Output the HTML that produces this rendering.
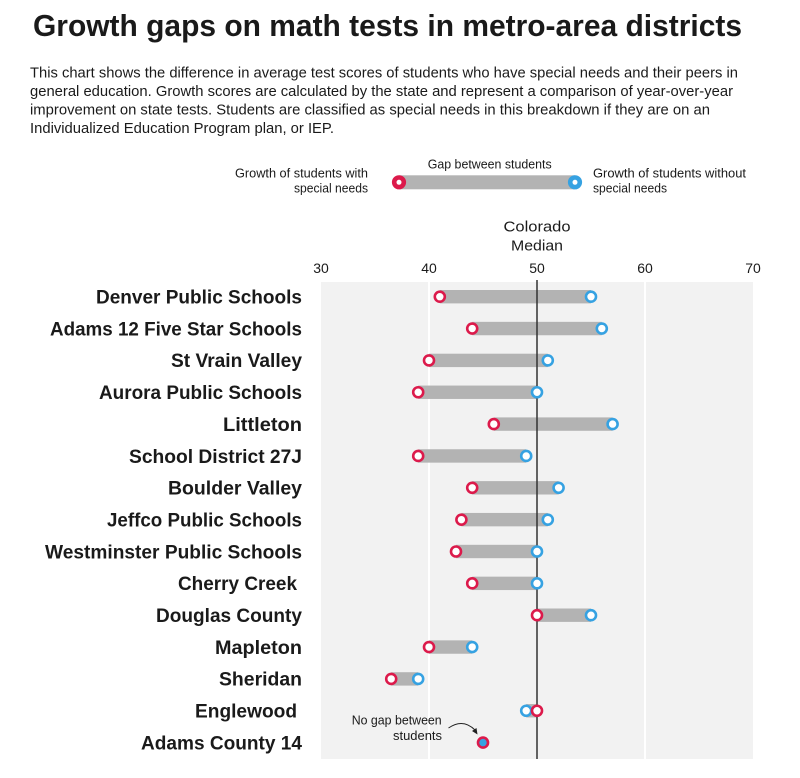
<!DOCTYPE html>
<html><head><meta charset="utf-8">
<style>
html,body{margin:0;padding:0;background:#fff;}
svg{display:block;}
text{font-family:"Liberation Sans",sans-serif;fill:#1a1a1a;}
</style></head>
<body>
<svg width="800" height="778" viewBox="0 0 800 778" xmlns="http://www.w3.org/2000/svg">
<!-- Title -->
<text x="33" y="36" font-size="31" font-weight="bold" textLength="709" lengthAdjust="spacingAndGlyphs" fill="#111">Growth gaps on math tests in metro-area districts</text>
<!-- Description -->
<g font-size="15" fill="#222">
<text x="30" y="77.5" textLength="708" lengthAdjust="spacingAndGlyphs">This chart shows the difference in average test scores of students who have special needs and their peers in</text>
<text x="30" y="96" textLength="703" lengthAdjust="spacingAndGlyphs">general education. Growth scores are calculated by the state and represent a comparison of year-over-year</text>
<text x="30" y="114.5" textLength="680" lengthAdjust="spacingAndGlyphs">improvement on state tests. Students are classified as special needs in this breakdown if they are on an</text>
<text x="30" y="133" textLength="304" lengthAdjust="spacingAndGlyphs">Individualized Education Program plan, or IEP.</text>
</g>
<!-- Legend -->
<g font-size="12.5" fill="#222">
<text x="427.7" y="168.3" textLength="124" lengthAdjust="spacingAndGlyphs">Gap between students</text>
<text x="235" y="177.5" textLength="133" lengthAdjust="spacingAndGlyphs">Growth of students with</text>
<text x="294" y="192.5" textLength="74" lengthAdjust="spacingAndGlyphs">special needs</text>
<text x="593" y="177.5" textLength="153" lengthAdjust="spacingAndGlyphs">Growth of students without</text>
<text x="593" y="192.5" textLength="74" lengthAdjust="spacingAndGlyphs">special needs</text>
</g>
<rect x="399" y="175.3" width="176" height="14" fill="#b3b3b3"/>
<circle cx="399" cy="182.3" r="4.8" fill="#fff" stroke="#dc1a4b" stroke-width="4.6"/>
<circle cx="575" cy="182.3" r="4.8" fill="#fff" stroke="#36a2e2" stroke-width="4.6"/>
<!-- Colorado Median -->
<text x="537" y="231.5" font-size="15" text-anchor="middle" textLength="67" lengthAdjust="spacingAndGlyphs" fill="#222">Colorado</text>
<text x="537" y="250.5" font-size="15" text-anchor="middle" textLength="52" lengthAdjust="spacingAndGlyphs" fill="#222">Median</text>
<!-- Tick labels -->
<g font-size="14" text-anchor="middle" fill="#222">
<text x="321" y="273">30</text>
<text x="429" y="273">40</text>
<text x="537" y="273">50</text>
<text x="645" y="273">60</text>
<text x="753" y="273">70</text>
</g>
<!-- Plot background -->
<rect x="321" y="282" width="432" height="477" fill="#f2f2f2"/>
<line x1="429" y1="282" x2="429" y2="759" stroke="#fff" stroke-width="2"/>
<line x1="645" y1="282" x2="645" y2="759" stroke="#fff" stroke-width="2"/>
<!-- Row labels -->
<g font-size="19" font-weight="bold" text-anchor="end" fill="#1a1a1a">
<text x="302" y="303.5" textLength="206" lengthAdjust="spacingAndGlyphs">Denver Public Schools</text>
<text x="302" y="335.35" textLength="252" lengthAdjust="spacingAndGlyphs">Adams 12 Five Star Schools</text>
<text x="302" y="367.2" textLength="131" lengthAdjust="spacingAndGlyphs">St Vrain Valley</text>
<text x="302" y="399.05" textLength="203" lengthAdjust="spacingAndGlyphs">Aurora Public Schools</text>
<text x="302" y="430.9" textLength="79" lengthAdjust="spacingAndGlyphs">Littleton</text>
<text x="302" y="462.75" textLength="173" lengthAdjust="spacingAndGlyphs">School District 27J</text>
<text x="302" y="494.6" textLength="134" lengthAdjust="spacingAndGlyphs">Boulder Valley</text>
<text x="302" y="526.45" textLength="195" lengthAdjust="spacingAndGlyphs">Jeffco Public Schools</text>
<text x="302" y="558.3" textLength="257" lengthAdjust="spacingAndGlyphs">Westminster Public Schools</text>
<text x="297" y="590.15" textLength="119" lengthAdjust="spacingAndGlyphs">Cherry Creek</text>
<text x="302" y="622" textLength="146" lengthAdjust="spacingAndGlyphs">Douglas County</text>
<text x="302" y="653.85" textLength="87" lengthAdjust="spacingAndGlyphs">Mapleton</text>
<text x="302" y="685.7" textLength="83" lengthAdjust="spacingAndGlyphs">Sheridan</text>
<text x="297" y="717.55" textLength="102" lengthAdjust="spacingAndGlyphs">Englewood</text>
<text x="302" y="749.4" textLength="161" lengthAdjust="spacingAndGlyphs">Adams County 14</text>
</g>
<!-- Bars -->
<g fill="#b3b3b3">
<rect x="439.8" y="290" width="151.2" height="13.4"/>
<rect x="472.2" y="321.85" width="129.6" height="13.4"/>
<rect x="429" y="353.7" width="118.8" height="13.4"/>
<rect x="418.2" y="385.55" width="118.8" height="13.4"/>
<rect x="493.8" y="417.4" width="118.8" height="13.4"/>
<rect x="418.2" y="449.25" width="108" height="13.4"/>
<rect x="472.2" y="481.1" width="86.4" height="13.4"/>
<rect x="461.4" y="512.95" width="86.4" height="13.4"/>
<rect x="456" y="544.8" width="81" height="13.4"/>
<rect x="472.2" y="576.65" width="64.8" height="13.4"/>
<rect x="537" y="608.5" width="54" height="13.4"/>
<rect x="429" y="640.35" width="43.2" height="13.4"/>
<rect x="391.2" y="672.2" width="27" height="13.4"/>
<rect x="526.2" y="704.05" width="10.8" height="13.4"/>
</g>
<!-- Median line -->
<line x1="537" y1="280" x2="537" y2="759" stroke="#333" stroke-width="1.5"/>
<!-- Annotation -->
<g font-size="12.5" fill="#222">
<text x="351.7" y="724.5" textLength="90" lengthAdjust="spacingAndGlyphs">No gap between</text>
<text x="393" y="740" textLength="49" lengthAdjust="spacingAndGlyphs">students</text>
</g>
<path d="M448.5,728 Q463,718 475,730" fill="none" stroke="#222" stroke-width="1"/>
<path d="M472,731 L477.5,734.5 L476.5,728 Z" fill="#222"/>
<!-- Points -->
<g stroke-width="2.6" fill="#fff">
<g stroke="#36a2e2">
<circle cx="591" cy="296.7" r="5"/>
<circle cx="601.8" cy="328.55" r="5"/>
<circle cx="547.8" cy="360.4" r="5"/>
<circle cx="537" cy="392.25" r="5"/>
<circle cx="612.6" cy="424.1" r="5"/>
<circle cx="526.2" cy="455.95" r="5"/>
<circle cx="558.6" cy="487.8" r="5"/>
<circle cx="547.8" cy="519.65" r="5"/>
<circle cx="537" cy="551.5" r="5"/>
<circle cx="537" cy="583.35" r="5"/>
<circle cx="591" cy="615.2" r="5"/>
<circle cx="472.2" cy="647.05" r="5"/>
<circle cx="418.2" cy="678.9" r="5"/>
<circle cx="526.2" cy="710.75" r="5"/>
</g>
<g stroke="#dc1a4b">
<circle cx="439.8" cy="296.7" r="5"/>
<circle cx="472.2" cy="328.55" r="5"/>
<circle cx="429" cy="360.4" r="5"/>
<circle cx="418.2" cy="392.25" r="5"/>
<circle cx="493.8" cy="424.1" r="5"/>
<circle cx="418.2" cy="455.95" r="5"/>
<circle cx="472.2" cy="487.8" r="5"/>
<circle cx="461.4" cy="519.65" r="5"/>
<circle cx="456" cy="551.5" r="5"/>
<circle cx="472.2" cy="583.35" r="5"/>
<circle cx="537" cy="615.2" r="5"/>
<circle cx="429" cy="647.05" r="5"/>
<circle cx="391.2" cy="678.9" r="5"/>
<circle cx="537" cy="710.75" r="5"/>
<circle cx="483" cy="742.6" r="5" fill="#36a2e2"/>
</g>
</g>
</svg>
</body></html>
